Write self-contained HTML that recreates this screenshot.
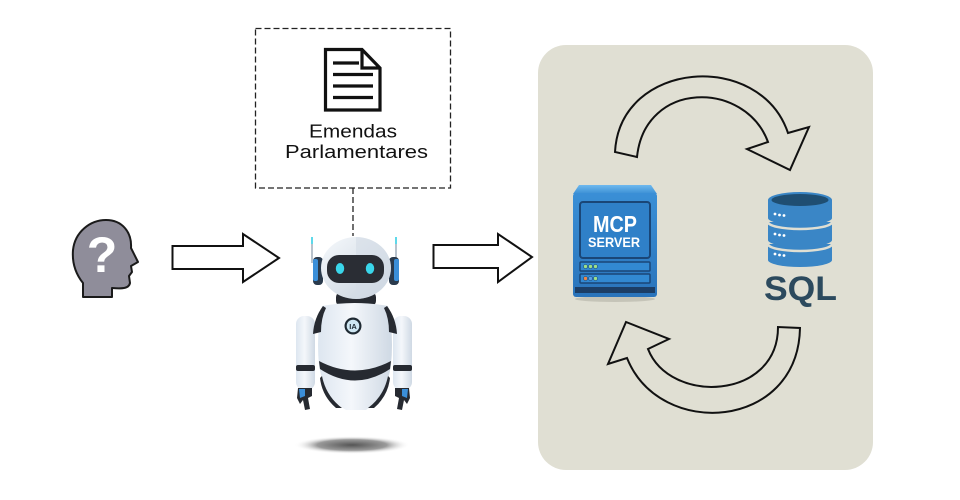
<!DOCTYPE html>
<html><head><meta charset="utf-8"><style>
html,body{margin:0;padding:0;background:#fff;}
svg{display:block;}
</style></head><body>
<svg width="960" height="500" viewBox="0 0 960 500" xmlns="http://www.w3.org/2000/svg" font-family="Liberation Sans, Arial, sans-serif">
<defs>
<radialGradient id="shadow" cx="50%" cy="50%" r="50%">
<stop offset="0" stop-color="#555"/><stop offset="0.6" stop-color="#9a9a9a"/><stop offset="1" stop-color="#ffffff" stop-opacity="0"/>
</radialGradient>
<linearGradient id="headg" x1="0" y1="0" x2="1" y2="1">
<stop offset="0" stop-color="#f6f9fc"/><stop offset="1" stop-color="#c5d0dc"/>
</linearGradient>
<linearGradient id="bodyg" x1="0" y1="0" x2="1" y2="0">
<stop offset="0" stop-color="#dde6f0"/><stop offset="0.45" stop-color="#f4f7fb"/><stop offset="1" stop-color="#cfd9e4"/>
</linearGradient>
<linearGradient id="srvtop" x1="0" y1="0" x2="0" y2="1">
<stop offset="0" stop-color="#6fb9ee"/><stop offset="1" stop-color="#3a8ed4"/>
</linearGradient>
<linearGradient id="srvbody" x1="0" y1="0" x2="0" y2="1">
<stop offset="0" stop-color="#3a8fd6"/><stop offset="1" stop-color="#2a74bb"/>
</linearGradient>
</defs>

<!-- panel -->
<rect x="538" y="45" width="335" height="425" rx="28" fill="#e0dfd3"/>

<!-- dashed box -->
<rect x="255.5" y="28.5" width="195" height="159.5" fill="#fff" stroke="#222" stroke-width="1.3" stroke-dasharray="6 3"/>
<line x1="353" y1="188" x2="353" y2="236" stroke="#222" stroke-width="1.3" stroke-dasharray="6 3"/>

<!-- document icon -->
<path d="M325.5,49.5 L362,49.5 L380,68 L380,110 L325.5,110 Z" fill="#fff" stroke="#111" stroke-width="3.2" stroke-linejoin="miter"/>
<path d="M362,49.5 L362,68 L380,68" fill="none" stroke="#111" stroke-width="3.2"/>
<line x1="333" y1="63" x2="359" y2="63" stroke="#111" stroke-width="3.2"/>
<line x1="333" y1="74.5" x2="373" y2="74.5" stroke="#111" stroke-width="3.2"/>
<line x1="333" y1="86" x2="373" y2="86" stroke="#111" stroke-width="3.2"/>
<line x1="333" y1="97.5" x2="373" y2="97.5" stroke="#111" stroke-width="3.2"/>

<text x="309" y="137.5" font-size="18" fill="#111" textLength="88" lengthAdjust="spacingAndGlyphs">Emendas</text>
<text x="285" y="158" font-size="18" fill="#111" textLength="143" lengthAdjust="spacingAndGlyphs">Parlamentares</text>

<!-- head silhouette -->
<path d="M83,297 L83,283 C75,273 72,262 73,250 C75,232 90,220 106,220 C122,220 132,232 131,248 L138,262 L131,266 L132,272 L129,276 L130,283 C129,288 124,289 112,288 L112,297 Z" fill="#8f8d9a" stroke="#1a1a1a" stroke-width="2" stroke-linejoin="round"/>
<text x="102" y="272" font-size="50" font-weight="bold" fill="#fff" text-anchor="middle">?</text>

<!-- block arrow 1 -->
<path d="M172.5,246 L243,246 L243,234 L279,258 L243,282 L243,269 L172.5,269 Z" fill="#fff" stroke="#111" stroke-width="2" stroke-linejoin="miter"/>
<!-- block arrow 2 -->
<path d="M433.5,245 L498,245 L498,234 L532,257 L498,282 L498,268 L433.5,268 Z" fill="#fff" stroke="#111" stroke-width="2" stroke-linejoin="miter"/>

<!-- robot shadow -->
<ellipse cx="352" cy="445" rx="58" ry="9" fill="url(#shadow)"/>

<!-- robot antennas -->
<line x1="312" y1="239" x2="312" y2="263" stroke="#b8c2cc" stroke-width="2"/>
<line x1="312" y1="237" x2="312" y2="244" stroke="#5fd9ea" stroke-width="2"/>
<line x1="396" y1="239" x2="396" y2="263" stroke="#b8c2cc" stroke-width="2"/>
<line x1="396" y1="237" x2="396" y2="244" stroke="#5fd9ea" stroke-width="2"/>
<!-- ears -->
<rect x="313" y="257" width="10" height="28" rx="4" fill="#2a3a4c"/>
<rect x="313" y="259" width="5" height="22" rx="2" fill="#3b8fd9"/>
<rect x="389" y="257" width="10" height="28" rx="4" fill="#2a3a4c"/>
<rect x="394" y="259" width="5" height="22" rx="2" fill="#3b8fd9"/>
<!-- neck -->
<rect x="336" y="292" width="40" height="14" rx="5" fill="#262a31"/>
<!-- head -->
<ellipse cx="356" cy="268" rx="35" ry="31" fill="url(#headg)"/>
<path d="M356,237 A35,31 0 0 1 356,299 Z" fill="#d3dce6" opacity="0.6"/>
<rect x="327" y="255" width="57" height="28" rx="12" fill="#2a2d34"/>
<ellipse cx="340" cy="268.5" rx="4.2" ry="5.5" fill="#3ad6ea"/>
<ellipse cx="370" cy="268.5" rx="4.2" ry="5.5" fill="#3ad6ea"/>

<!-- arms -->
<rect x="296" y="316" width="19" height="74" rx="8" fill="url(#bodyg)"/>
<rect x="296" y="365" width="19" height="6" rx="2" fill="#262a31"/>
<rect x="393" y="316" width="19" height="74" rx="8" fill="url(#bodyg)"/>
<rect x="393" y="365" width="19" height="6" rx="2" fill="#262a31"/>
<!-- hands -->
<path d="M298,388 L312,388 L312,396 L308,398 L310,409 L305,410 L303,400 L300,404 L297,398 Z" fill="#262a31"/>
<path d="M299,389 L305,389 L305,396 L300,398 Z" fill="#3b8fd9"/>
<path d="M395,388 L409,388 L410,398 L407,404 L404,400 L402,410 L397,409 L399,398 L395,396 Z" fill="#262a31"/>
<path d="M402,389 L408,389 L407,398 L402,396 Z" fill="#3b8fd9"/>

<!-- torso -->
<path d="M322,306 Q354,300 388,306 Q394,335 391,365 Q386,398 366,410 L346,410 Q324,398 319,365 Q316,335 322,306 Z" fill="url(#bodyg)"/>
<path d="M323,306 Q314,318 313,334 L321,332 Q321,318 326,308 Z" fill="#262a31"/>
<path d="M387,306 Q396,318 397,334 L389,332 Q389,318 384,308 Z" fill="#262a31"/>
<path d="M319,361 Q355,380 391,361 L390,369 Q355,392 320,369 Z" fill="#262a31"/>
<path d="M322,376 Q326,396 342,408 L336,408 Q322,396 320,378 Z" fill="#262a31"/>
<path d="M388,376 Q384,396 368,408 L374,408 Q388,396 390,378 Z" fill="#262a31"/>
<!-- IA badge -->
<circle cx="353" cy="326" r="8.5" fill="#1f2a33"/>
<circle cx="353" cy="326" r="6.3" fill="#cfe7f3"/>
<text x="353" y="329" font-size="7.5" font-weight="bold" fill="#1f2a33" text-anchor="middle">IA</text>

<!-- top curved arrow -->
<path d="M615,152 C620,60 760,50 788,133 L809,127 L790,170 L747,149 L768,142 C745,80 645,80 637,157 Z" fill="none" stroke="#111" stroke-width="2" stroke-linejoin="miter"/>
<!-- bottom curved arrow -->
<path d="M800,328 C798,430 660,440 627,358 L608,364 L626,322 L669,339 L648,349 C670,405 778,400 778,327 Z" fill="none" stroke="#111" stroke-width="2" stroke-linejoin="miter"/>

<!-- MCP server -->
<ellipse cx="615" cy="299" rx="40" ry="3" fill="#b9b8ad" opacity="0.7"/>
<path d="M579,185 L651,185 L657,194 L573,194 Z" fill="url(#srvtop)"/>
<rect x="573" y="193" width="84" height="104" rx="3" fill="url(#srvbody)"/>
<rect x="580" y="202" width="70" height="56" rx="3" fill="#2f80c8" stroke="#1a4677" stroke-width="2"/>
<text x="593" y="232" font-size="23" font-weight="bold" fill="#fff" textLength="44" lengthAdjust="spacingAndGlyphs">MCP</text>
<text x="588" y="247" font-size="14" font-weight="bold" fill="#fff" textLength="52" lengthAdjust="spacingAndGlyphs">SERVER</text>
<rect x="580" y="262" width="70" height="9" rx="1" fill="#3289d2" stroke="#1a4677" stroke-width="1.5"/>
<rect x="580" y="274" width="70" height="9" rx="1" fill="#3289d2" stroke="#1a4677" stroke-width="1.5"/>
<circle cx="585.5" cy="266.5" r="2" fill="#9de08a" stroke="#1a4677" stroke-width="0.6"/>
<circle cx="590.5" cy="266.5" r="2" fill="#9de08a" stroke="#1a4677" stroke-width="0.6"/>
<circle cx="595.5" cy="266.5" r="2" fill="#9de08a" stroke="#1a4677" stroke-width="0.6"/>
<circle cx="585.5" cy="278.5" r="2" fill="#f0884a" stroke="#1a4677" stroke-width="0.6"/>
<circle cx="590.5" cy="278.5" r="2" fill="#5aa2e6" stroke="#1a4677" stroke-width="0.6"/>
<circle cx="595.5" cy="278.5" r="2" fill="#9de08a" stroke="#1a4677" stroke-width="0.6"/>
<rect x="575" y="287" width="80" height="6" fill="#1c3e66"/>

<!-- SQL database -->
<path d="M768,244 L768,260 A32,7 0 0 0 832,260 L832,244 Z" fill="#3a86c6"/>
<path d="M768,244 A32,7 0 0 0 832,244" fill="none" stroke="#e0dfd3" stroke-width="2.5"/>
<path d="M768,222 L768,240 A32,7 0 0 0 832,240 L832,222 Z" fill="#3a86c6"/>
<path d="M768,222 A32,7 0 0 0 832,222" fill="none" stroke="#e0dfd3" stroke-width="2.5"/>
<path d="M768,200 L768,218 A32,7 0 0 0 832,218 L832,200 Z" fill="#3a86c6"/>
<ellipse cx="800" cy="200" rx="32" ry="8" fill="#3a86c6"/>
<ellipse cx="800" cy="200" rx="28.5" ry="6" fill="#1f4e72"/>
<circle cx="775" cy="214" r="1.4" fill="#fff"/><circle cx="779.5" cy="215" r="1.4" fill="#fff"/><circle cx="784" cy="215.5" r="1.4" fill="#fff"/>
<circle cx="775" cy="234" r="1.4" fill="#fff"/><circle cx="779.5" cy="235" r="1.4" fill="#fff"/><circle cx="784" cy="235.5" r="1.4" fill="#fff"/>
<circle cx="775" cy="254" r="1.4" fill="#fff"/><circle cx="779.5" cy="255" r="1.4" fill="#fff"/><circle cx="784" cy="255.5" r="1.4" fill="#fff"/>
<text x="764" y="300" font-size="34" font-weight="bold" fill="#2c4a5e" textLength="73" lengthAdjust="spacingAndGlyphs">SQL</text>
</svg>
</body></html>
